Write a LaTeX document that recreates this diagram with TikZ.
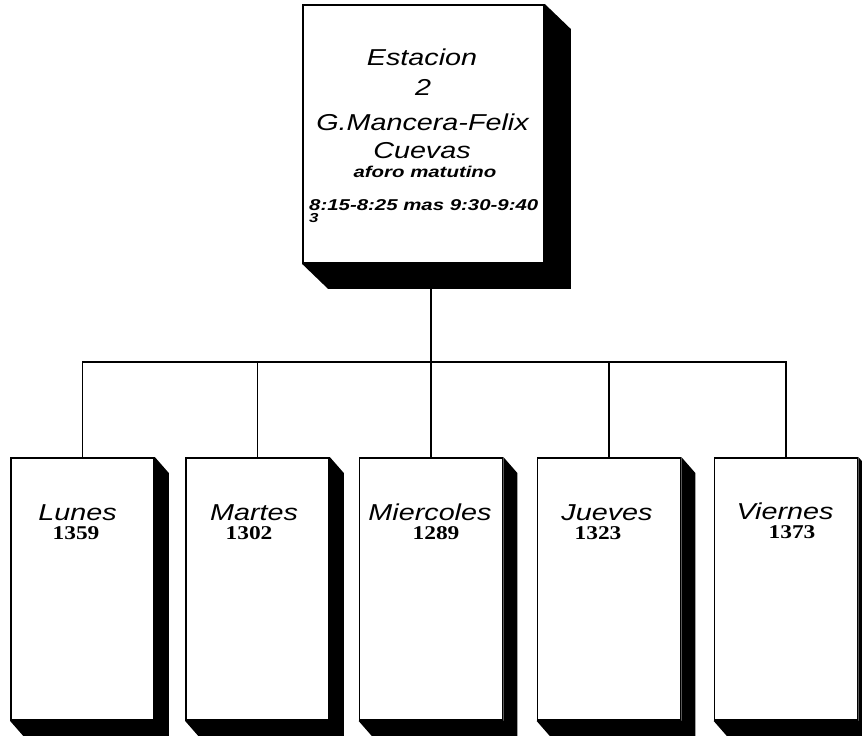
\documentclass[tikz,border=0pt]{standalone}
\usepackage{fontspec}
\newfontfamily\labfont[FakeStretch=1.25]{Liberation Sans}
\newfontfamily\boldfont[FakeStretch=1.3]{Liberation Sans}
\newfontfamily\numfont[FakeStretch=1.2]{Liberation Serif}
\newcommand\boxshadow[3]{\fill[black] (#1.north east) -- ++(#2,#3) -- ([shift={(#2,#3)}]#1.south east) -- ([shift={(#2,#3)}]#1.south west) -- (#1.south west) -- (#1.south east) -- cycle;}
\begin{document}
\begin{tikzpicture}[x=1pt,y=-1pt,
  front/.style={draw=black, line width=1.8pt, fill=white, rectangle, inner sep=0pt},
  topbox/.style={front, minimum width=241pt, minimum height=258pt},
  daybox/.style={front, minimum width=143pt, minimum height=262pt},
  wire/.style={line width=1.4pt},
  bigtxt/.style={font=\labfont\itshape\fontsize{23}{25}\selectfont, anchor=base, inner sep=0pt},
  boldtxt/.style={font=\boldfont\bfseries\itshape\fontsize{15.7}{17}\selectfont, anchor=base, inner sep=0pt},
  smalltxt/.style={font=\boldfont\bfseries\itshape\fontsize{13}{14}\selectfont, anchor=base west, inner sep=0pt},
  numtxt/.style={font=\numfont\bfseries\fontsize{19.5}{21}\selectfont, anchor=base, inner sep=0pt}]
\useasboundingbox[fill=white] (0,0) rectangle (862,736);

% top box
\node[topbox] (t) at (423.5,134) {};
\boxshadow{t}{26}{25}
\node[bigtxt] (t1) at (422,65) {Estacion};
\node[bigtxt] (t2) at (423,95) {2};
\node[bigtxt] (t3) at (422.5,130) {G.Mancera-Felix};
\node[bigtxt] (t4) at (422,158) {Cuevas};
\node[boldtxt, anchor=base] (t5) at (425,177) {aforo matutino};
\node[boldtxt, anchor=base west] (t6) at (309,210) {8:15-8:25 mas 9:30-9:40};
\node[smalltxt] (t7) at (309,222) {3};

% day boxes
\node[daybox] (lu) at (82.5,589) {};
\node[daybox] (ma) at (257.5,589) {};
\node[daybox] (mi) at (431,589) {};
\node[daybox] (ju) at (609,589) {};
\node[daybox] (vi) at (786,589) {};
\boxshadow{lu}{14}{16}
\boxshadow{ma}{14}{16}
\boxshadow{mi}{14}{16}
\boxshadow{ju}{14}{16}
\boxshadow{vi}{14}{16}

\node[bigtxt] (lu1) at (77.5,520) {Lunes};
\node[numtxt] (lu2) at (76,539) {1359};
\node[bigtxt] (ma1) at (254,520) {Martes};
\node[numtxt] (ma2) at (249,539) {1302};
\node[bigtxt] (mi1) at (430,520) {Miercoles};
\node[numtxt] (mi2) at (436,539) {1289};
\node[bigtxt] (ju1) at (607,520) {Jueves};
\node[numtxt] (ju2) at (598,539) {1323};
\node[bigtxt] (vi1) at (785,519) {Viernes};
\node[numtxt] (vi2) at (792,538) {1373};

% connectors
\coordinate (bus) at (431,362);
\draw[wire] (t.south -| mi.north) -- (mi.north);
\draw[wire] (lu.north) -- (lu.north |- bus) -- (vi.north |- bus) -- (vi.north);
\draw[wire] (ma.north) -- (ma.north |- bus);
\draw[wire] (ju.north) -- (ju.north |- bus);
\end{tikzpicture}
\end{document}
